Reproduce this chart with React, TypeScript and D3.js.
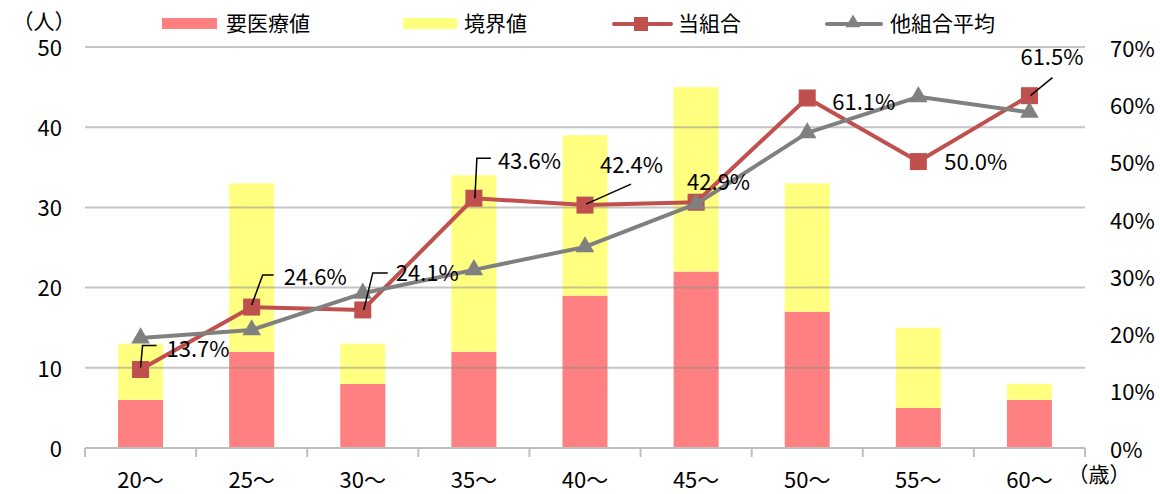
import React from "react";
import * as d3 from "d3";

const categories = ["20～", "25～", "30～", "35～", "40～", "45～", "50～", "55～", "60～"];
const needCare = [6, 12, 8, 12, 19, 22, 17, 5, 6];
const borderline = [7, 21, 5, 22, 20, 23, 16, 10, 2];
const ownRate = [13.7, 24.6, 24.1, 43.6, 42.4, 42.9, 61.1, 50.0, 61.5];
const otherAvg = [19.2, 20.6, 27.0, 31.1, 35.1, 42.6, 55.0, 61.3, 58.6];
const leftTicks = [0, 10, 20, 30, 40, 50];
const rightTicks = [0, 10, 20, 30, 40, 50, 60, 70];
const seriesNames = ["要医療値", "境界値", "当組合", "他組合平均"];

// label layout (offsets relative to point)
const labelLayout = [
  { dx: 26, dy: -20, leader: [[0, -2], [2, -24], [16, -24]] },
  { dx: 32, dy: -30, leader: [[0, -2], [11, -32], [22, -32]] },
  { dx: 33, dy: -37, leader: [[1, 0], [10, -37], [25, -37]] },
  { dx: 24, dy: -37, leader: [[1, 0], [3, -40], [17, -40]] },
  { dx: 15, dy: -40, leader: [[1, -1], [46, -21]] },
  { dx: -9, dy: -20, leader: null },
  { dx: 25, dy: 4, leader: null },
  { dx: 26, dy: 1, leader: null },
  { dx: -9, dy: -38, leader: [[1, 0], [23, -18]] },
];

const W = 1160, H = 494;
const M = { left: 85, right: 1085, top: 47, bottom: 448 };
const RED_BAR = "#FF8080";
const YEL_BAR = "#FFFF80";
const RED_LINE = "#C0504D";
const GRAY_LINE = "#808080";
const FONT = "'Noto Sans CJK JP', 'Noto Sans', sans-serif";

export default function App() {
  const x = d3.scaleBand<string>().domain(categories).range([M.left, M.right]).paddingInner(0.595).paddingOuter(0.2975);
  const xc = (i: number) => (x(categories[i]) as number) + x.bandwidth() / 2;
  const yL = d3.scaleLinear().domain([0, 50]).range([M.bottom, M.top]);
  const yR = d3.scaleLinear().domain([0, 70]).range([M.bottom, M.top]);
  const step = (M.right - M.left) / categories.length;

  const line = d3.line<number>().x((_, i) => xc(i)).y((d) => yR(d));
  const tri = d3.symbol().type(d3.symbolTriangle).size(150)();

  return (
    <svg width={W} height={H} style={{ position: "absolute", left: 0, top: 0, background: "#fff" }} fontFamily={FONT}>
      {/* bars */}
      {categories.map((c, i) => (
        <g key={c}>
          <rect x={x(c)} y={yL(needCare[i])} width={x.bandwidth()} height={yL(0) - yL(needCare[i])} fill={RED_BAR} />
          <rect x={x(c)} y={yL(needCare[i] + borderline[i])} width={x.bandwidth()} height={yL(needCare[i]) - yL(needCare[i] + borderline[i])} fill={YEL_BAR} />
        </g>
      ))}
      {/* gridlines */}
      {leftTicks.filter((t) => t > 0).map((t) => (
        <line key={t} x1={M.left} x2={M.right} y1={yL(t)} y2={yL(t)} stroke="#8c8c8c" strokeOpacity={0.5} strokeWidth={2} />
      ))}
      {/* x axis */}
      <line x1={M.left} x2={M.right} y1={yL(0)} y2={yL(0)} stroke="#BFBFBF" strokeWidth={2} />
      {d3.range(categories.length + 1).map((i) => (
        <line key={i} x1={M.left + i * step} x2={M.left + i * step} y1={yL(0)} y2={yL(0) + 9} stroke="#BFBFBF" strokeWidth={2} />
      ))}
      {categories.map((c, i) => (
        <text key={c} x={xc(i)} y={480} fontSize={22} textAnchor="middle" dy="0.35em" fill="#000">{c}</text>
      ))}
      <text x={1099} y={475} fontSize={21} textAnchor="middle" dy="0.35em">（歳）</text>
      {/* left ticks */}
      {leftTicks.map((t) => (
        <text key={t} x={62} y={yL(t) + 1} fontSize={22} textAnchor="end" dy="0.35em">{t}</text>
      ))}
      <text x={44} y={22} fontSize={21} textAnchor="middle" dy="0.35em">（人）</text>
      {/* right ticks */}
      {rightTicks.map((t) => (
        <text key={t} x={1110} y={yR(t) + 2} fontSize={22} textAnchor="start" dy="0.35em">{t}%</text>
      ))}
      {/* lines */}
      <path d={line(ownRate) as string} fill="none" stroke={RED_LINE} strokeWidth={4} strokeLinejoin="round" />
      {ownRate.map((v, i) => (
        <rect key={i} x={xc(i) - 8.5} y={yR(v) - 8.5} width={17} height={17} fill={RED_LINE} />
      ))}
      <path d={line(otherAvg) as string} fill="none" stroke={GRAY_LINE} strokeWidth={4} strokeLinejoin="round" />
      {otherAvg.map((v, i) => (
        <path key={i} d={tri as string} transform={`translate(${xc(i)},${yR(v)})`} fill={GRAY_LINE} />
      ))}
      {/* data labels */}
      {ownRate.map((v, i) => {
        const px = xc(i), py = yR(v);
        const L = labelLayout[i];
        return (
          <g key={i}>
            {L.leader && (
              <polyline points={L.leader.map(([a, b]) => `${px + a},${py + b}`).join(" ")} fill="none" stroke="#000" strokeWidth={1.5} />
            )}
            <text x={px + L.dx} y={py + L.dy} fontSize={22} dy="0.35em" fill="#000">{v.toFixed(1)}%</text>
          </g>
        );
      })}
      {/* legend */}
      <g fontSize={21}>
        <rect x={162} y={18} width={55} height={11} fill={RED_BAR} />
        <text x={226} y={24} dy="0.35em">{seriesNames[0]}</text>
        <rect x={403} y={18} width={54} height={11} fill={YEL_BAR} />
        <text x={464} y={24} dy="0.35em">{seriesNames[1]}</text>
        <line x1={614} x2={671} y1={24} y2={24} stroke={RED_LINE} strokeWidth={4} strokeLinecap="round" />
        <rect x={634} y={17} width={14} height={14} fill={RED_LINE} />
        <text x={678} y={24} dy="0.35em">{seriesNames[2]}</text>
        <line x1={827} x2={881} y1={24} y2={24} stroke={GRAY_LINE} strokeWidth={4} strokeLinecap="round" />
        <path d={tri as string} transform="translate(853,23) scale(0.8)" fill={GRAY_LINE} />
        <text x={890} y={24} dy="0.35em">{seriesNames[3]}</text>
      </g>
    </svg>
  );
}
